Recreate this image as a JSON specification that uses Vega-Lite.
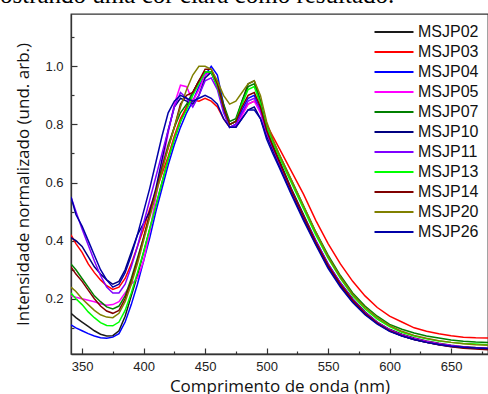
{
  "$schema": "https://vega.github.io/schema/vega-lite/v6.json",
  "width": 417,
  "height": 340,
  "autosize": {"type": "none"},
  "padding": {"left": 71, "top": 14, "right": 0, "bottom": 40},
  "background": "white",
  "title": {"text": "ostrando uma cor clara como resultado.", "font": "Liberation Serif", "fontSize": 25, "fontWeight": "normal", "color": "#000", "anchor": "start", "frame": "group", "dx": -71, "dy": 19.5, "offset": 6, "baseline": "alphabetic"},
  "data": {"values": [
    {"nm":341,"MSJP02":0.15,"MSJP03":0.42,"MSJP04":0.11,"MSJP05":0.21,"MSJP07":0.32,"MSJP10":0.41,"MSJP11":0.55,"MSJP13":0.22,"MSJP14":0.31,"MSJP20":0.24,"MSJP26":0.55},
    {"nm":345,"MSJP02":0.135,"MSJP03":0.39,"MSJP04":0.10,"MSJP05":0.205,"MSJP07":0.30,"MSJP10":0.40,"MSJP11":0.50,"MSJP13":0.20,"MSJP14":0.285,"MSJP20":0.225,"MSJP26":0.49},
    {"nm":350,"MSJP02":0.12,"MSJP03":0.36,"MSJP04":0.09,"MSJP05":0.20,"MSJP07":0.27,"MSJP10":0.38,"MSJP11":0.44,"MSJP13":0.18,"MSJP14":0.26,"MSJP20":0.20,"MSJP26":0.45},
    {"nm":355,"MSJP02":0.105,"MSJP03":0.32,"MSJP04":0.08,"MSJP05":0.195,"MSJP07":0.24,"MSJP10":0.345,"MSJP11":0.385,"MSJP13":0.155,"MSJP14":0.23,"MSJP20":0.18,"MSJP26":0.40},
    {"nm":360,"MSJP02":0.09,"MSJP03":0.29,"MSJP04":0.072,"MSJP05":0.19,"MSJP07":0.21,"MSJP10":0.31,"MSJP11":0.33,"MSJP13":0.135,"MSJP14":0.20,"MSJP20":0.16,"MSJP26":0.35},
    {"nm":365,"MSJP02":0.078,"MSJP03":0.265,"MSJP04":0.066,"MSJP05":0.183,"MSJP07":0.19,"MSJP10":0.285,"MSJP11":0.28,"MSJP13":0.118,"MSJP14":0.175,"MSJP20":0.145,"MSJP26":0.30},
    {"nm":370,"MSJP02":0.072,"MSJP03":0.245,"MSJP04":0.064,"MSJP05":0.178,"MSJP07":0.172,"MSJP10":0.265,"MSJP11":0.24,"MSJP13":0.108,"MSJP14":0.158,"MSJP20":0.137,"MSJP26":0.265},
    {"nm":375,"MSJP02":0.073,"MSJP03":0.232,"MSJP04":0.068,"MSJP05":0.18,"MSJP07":0.165,"MSJP10":0.25,"MSJP11":0.22,"MSJP13":0.107,"MSJP14":0.15,"MSJP20":0.135,"MSJP26":0.24},
    {"nm":380,"MSJP02":0.09,"MSJP03":0.24,"MSJP04":0.08,"MSJP05":0.19,"MSJP07":0.175,"MSJP10":0.26,"MSJP11":0.22,"MSJP13":0.12,"MSJP14":0.16,"MSJP20":0.15,"MSJP26":0.25},
    {"nm":385,"MSJP02":0.14,"MSJP03":0.27,"MSJP04":0.12,"MSJP05":0.22,"MSJP07":0.21,"MSJP10":0.30,"MSJP11":0.25,"MSJP13":0.16,"MSJP14":0.20,"MSJP20":0.19,"MSJP26":0.29},
    {"nm":390,"MSJP02":0.21,"MSJP03":0.32,"MSJP04":0.18,"MSJP05":0.25,"MSJP07":0.27,"MSJP10":0.36,"MSJP11":0.31,"MSJP13":0.22,"MSJP14":0.26,"MSJP20":0.25,"MSJP26":0.35},
    {"nm":395,"MSJP02":0.28,"MSJP03":0.38,"MSJP04":0.25,"MSJP05":0.27,"MSJP07":0.34,"MSJP10":0.42,"MSJP11":0.38,"MSJP13":0.29,"MSJP14":0.33,"MSJP20":0.32,"MSJP26":0.42},
    {"nm":400,"MSJP02":0.36,"MSJP03":0.44,"MSJP04":0.33,"MSJP05":0.33,"MSJP07":0.41,"MSJP10":0.46,"MSJP11":0.46,"MSJP13":0.36,"MSJP14":0.41,"MSJP20":0.40,"MSJP26":0.50},
    {"nm":405,"MSJP02":0.44,"MSJP03":0.51,"MSJP04":0.41,"MSJP05":0.43,"MSJP07":0.49,"MSJP10":0.50,"MSJP11":0.54,"MSJP13":0.44,"MSJP14":0.49,"MSJP20":0.48,"MSJP26":0.58},
    {"nm":410,"MSJP02":0.52,"MSJP03":0.57,"MSJP04":0.50,"MSJP05":0.55,"MSJP07":0.57,"MSJP10":0.58,"MSJP11":0.62,"MSJP13":0.52,"MSJP14":0.57,"MSJP20":0.56,"MSJP26":0.67},
    {"nm":415,"MSJP02":0.60,"MSJP03":0.63,"MSJP04":0.58,"MSJP05":0.66,"MSJP07":0.65,"MSJP10":0.68,"MSJP11":0.70,"MSJP13":0.60,"MSJP14":0.65,"MSJP20":0.64,"MSJP26":0.76},
    {"nm":420,"MSJP02":0.68,"MSJP03":0.69,"MSJP04":0.66,"MSJP05":0.77,"MSJP07":0.73,"MSJP10":0.78,"MSJP11":0.78,"MSJP13":0.68,"MSJP14":0.72,"MSJP20":0.72,"MSJP26":0.84},
    {"nm":425,"MSJP02":0.75,"MSJP03":0.76,"MSJP04":0.73,"MSJP05":0.87,"MSJP07":0.79,"MSJP10":0.86,"MSJP11":0.86,"MSJP13":0.75,"MSJP14":0.79,"MSJP20":0.79,"MSJP26":0.88},
    {"nm":430,"MSJP02":0.81,"MSJP03":0.82,"MSJP04":0.79,"MSJP05":0.935,"MSJP07":0.84,"MSJP10":0.89,"MSJP11":0.91,"MSJP13":0.81,"MSJP14":0.87,"MSJP20":0.86,"MSJP26":0.90},
    {"nm":435,"MSJP02":0.86,"MSJP03":0.86,"MSJP04":0.84,"MSJP05":0.93,"MSJP07":0.87,"MSJP10":0.88,"MSJP11":0.89,"MSJP13":0.85,"MSJP14":0.90,"MSJP20":0.92,"MSJP26":0.89},
    {"nm":440,"MSJP02":0.91,"MSJP03":0.885,"MSJP04":0.88,"MSJP05":0.88,"MSJP07":0.91,"MSJP10":0.87,"MSJP11":0.86,"MSJP13":0.90,"MSJP14":0.91,"MSJP20":0.97,"MSJP26":0.88},
    {"nm":445,"MSJP02":0.95,"MSJP03":0.88,"MSJP04":0.93,"MSJP05":0.92,"MSJP07":0.95,"MSJP10":0.90,"MSJP11":0.90,"MSJP13":0.94,"MSJP14":0.95,"MSJP20":1.0,"MSJP26":0.89},
    {"nm":450,"MSJP02":0.98,"MSJP03":0.89,"MSJP04":0.97,"MSJP05":0.97,"MSJP07":0.98,"MSJP10":0.96,"MSJP11":0.95,"MSJP13":0.98,"MSJP14":0.99,"MSJP20":1.0,"MSJP26":0.90},
    {"nm":455,"MSJP02":0.98,"MSJP03":0.88,"MSJP04":1.0,"MSJP05":0.98,"MSJP07":0.98,"MSJP10":0.98,"MSJP11":0.96,"MSJP13":0.98,"MSJP14":0.99,"MSJP20":0.99,"MSJP26":0.89},
    {"nm":460,"MSJP02":0.93,"MSJP03":0.86,"MSJP04":0.97,"MSJP05":0.93,"MSJP07":0.94,"MSJP10":0.93,"MSJP11":0.92,"MSJP13":0.93,"MSJP14":0.94,"MSJP20":0.95,"MSJP26":0.87},
    {"nm":465,"MSJP02":0.86,"MSJP03":0.82,"MSJP04":0.87,"MSJP05":0.85,"MSJP07":0.87,"MSJP10":0.85,"MSJP11":0.84,"MSJP13":0.86,"MSJP14":0.86,"MSJP20":0.90,"MSJP26":0.82},
    {"nm":470,"MSJP02":0.80,"MSJP03":0.79,"MSJP04":0.79,"MSJP05":0.79,"MSJP07":0.81,"MSJP10":0.79,"MSJP11":0.79,"MSJP13":0.80,"MSJP14":0.80,"MSJP20":0.87,"MSJP26":0.79},
    {"nm":475,"MSJP02":0.81,"MSJP03":0.80,"MSJP04":0.80,"MSJP05":0.79,"MSJP07":0.82,"MSJP10":0.79,"MSJP11":0.80,"MSJP13":0.81,"MSJP14":0.81,"MSJP20":0.88,"MSJP26":0.79},
    {"nm":480,"MSJP02":0.88,"MSJP03":0.84,"MSJP04":0.85,"MSJP05":0.83,"MSJP07":0.88,"MSJP10":0.82,"MSJP11":0.84,"MSJP13":0.87,"MSJP14":0.86,"MSJP20":0.91,"MSJP26":0.82},
    {"nm":485,"MSJP02":0.94,"MSJP03":0.87,"MSJP04":0.89,"MSJP05":0.87,"MSJP07":0.93,"MSJP10":0.85,"MSJP11":0.88,"MSJP13":0.92,"MSJP14":0.90,"MSJP20":0.94,"MSJP26":0.85},
    {"nm":490,"MSJP02":0.95,"MSJP03":0.88,"MSJP04":0.90,"MSJP05":0.88,"MSJP07":0.94,"MSJP10":0.86,"MSJP11":0.89,"MSJP13":0.93,"MSJP14":0.91,"MSJP20":0.95,"MSJP26":0.85},
    {"nm":495,"MSJP02":0.88,"MSJP03":0.86,"MSJP04":0.85,"MSJP05":0.84,"MSJP07":0.88,"MSJP10":0.82,"MSJP11":0.85,"MSJP13":0.87,"MSJP14":0.86,"MSJP20":0.90,"MSJP26":0.82},
    {"nm":500,"MSJP02":0.78,"MSJP03":0.80,"MSJP04":0.77,"MSJP05":0.77,"MSJP07":0.79,"MSJP10":0.76,"MSJP11":0.77,"MSJP13":0.79,"MSJP14":0.78,"MSJP20":0.81,"MSJP26":0.75},
    {"nm":505,"MSJP02":0.73,"MSJP03":0.76,"MSJP04":0.72,"MSJP05":0.72,"MSJP07":0.745,"MSJP10":0.71,"MSJP11":0.72,"MSJP13":0.74,"MSJP14":0.725,"MSJP20":0.75,"MSJP26":0.70},
    {"nm":510,"MSJP02":0.68,"MSJP03":0.72,"MSJP04":0.67,"MSJP05":0.67,"MSJP07":0.70,"MSJP10":0.66,"MSJP11":0.67,"MSJP13":0.69,"MSJP14":0.675,"MSJP20":0.70,"MSJP26":0.655},
    {"nm":520,"MSJP02":0.58,"MSJP03":0.64,"MSJP04":0.57,"MSJP05":0.57,"MSJP07":0.61,"MSJP10":0.565,"MSJP11":0.575,"MSJP13":0.60,"MSJP14":0.575,"MSJP20":0.61,"MSJP26":0.56},
    {"nm":530,"MSJP02":0.49,"MSJP03":0.56,"MSJP04":0.48,"MSJP05":0.48,"MSJP07":0.52,"MSJP10":0.475,"MSJP11":0.485,"MSJP13":0.51,"MSJP14":0.485,"MSJP20":0.52,"MSJP26":0.47},
    {"nm":540,"MSJP02":0.40,"MSJP03":0.47,"MSJP04":0.39,"MSJP05":0.395,"MSJP07":0.43,"MSJP10":0.39,"MSJP11":0.40,"MSJP13":0.42,"MSJP14":0.395,"MSJP20":0.43,"MSJP26":0.385},
    {"nm":550,"MSJP02":0.32,"MSJP03":0.39,"MSJP04":0.31,"MSJP05":0.315,"MSJP07":0.35,"MSJP10":0.31,"MSJP11":0.32,"MSJP13":0.34,"MSJP14":0.315,"MSJP20":0.345,"MSJP26":0.305},
    {"nm":560,"MSJP02":0.255,"MSJP03":0.32,"MSJP04":0.245,"MSJP05":0.25,"MSJP07":0.28,"MSJP10":0.245,"MSJP11":0.255,"MSJP13":0.27,"MSJP14":0.25,"MSJP20":0.275,"MSJP26":0.24},
    {"nm":570,"MSJP02":0.20,"MSJP03":0.26,"MSJP04":0.19,"MSJP05":0.195,"MSJP07":0.22,"MSJP10":0.19,"MSJP11":0.198,"MSJP13":0.21,"MSJP14":0.195,"MSJP20":0.215,"MSJP26":0.187},
    {"nm":580,"MSJP02":0.155,"MSJP03":0.21,"MSJP04":0.148,"MSJP05":0.152,"MSJP07":0.175,"MSJP10":0.148,"MSJP11":0.153,"MSJP13":0.165,"MSJP14":0.15,"MSJP20":0.17,"MSJP26":0.145},
    {"nm":590,"MSJP02":0.12,"MSJP03":0.17,"MSJP04":0.115,"MSJP05":0.118,"MSJP07":0.14,"MSJP10":0.115,"MSJP11":0.118,"MSJP13":0.13,"MSJP14":0.116,"MSJP20":0.135,"MSJP26":0.113},
    {"nm":600,"MSJP02":0.095,"MSJP03":0.14,"MSJP04":0.09,"MSJP05":0.093,"MSJP07":0.112,"MSJP10":0.09,"MSJP11":0.093,"MSJP13":0.104,"MSJP14":0.09,"MSJP20":0.108,"MSJP26":0.088},
    {"nm":610,"MSJP02":0.078,"MSJP03":0.12,"MSJP04":0.073,"MSJP05":0.076,"MSJP07":0.095,"MSJP10":0.073,"MSJP11":0.075,"MSJP13":0.085,"MSJP14":0.073,"MSJP20":0.088,"MSJP26":0.072},
    {"nm":620,"MSJP02":0.065,"MSJP03":0.10,"MSJP04":0.06,"MSJP05":0.063,"MSJP07":0.082,"MSJP10":0.06,"MSJP11":0.062,"MSJP13":0.072,"MSJP14":0.06,"MSJP20":0.074,"MSJP26":0.06},
    {"nm":630,"MSJP02":0.055,"MSJP03":0.088,"MSJP04":0.05,"MSJP05":0.053,"MSJP07":0.072,"MSJP10":0.05,"MSJP11":0.052,"MSJP13":0.062,"MSJP14":0.05,"MSJP20":0.064,"MSJP26":0.05},
    {"nm":640,"MSJP02":0.047,"MSJP03":0.08,"MSJP04":0.042,"MSJP05":0.045,"MSJP07":0.065,"MSJP10":0.043,"MSJP11":0.044,"MSJP13":0.055,"MSJP14":0.042,"MSJP20":0.056,"MSJP26":0.043},
    {"nm":650,"MSJP02":0.04,"MSJP03":0.073,"MSJP04":0.036,"MSJP05":0.039,"MSJP07":0.058,"MSJP10":0.037,"MSJP11":0.038,"MSJP13":0.05,"MSJP14":0.035,"MSJP20":0.05,"MSJP26":0.037},
    {"nm":660,"MSJP02":0.035,"MSJP03":0.068,"MSJP04":0.032,"MSJP05":0.034,"MSJP07":0.054,"MSJP10":0.033,"MSJP11":0.033,"MSJP13":0.046,"MSJP14":0.03,"MSJP20":0.045,"MSJP26":0.033},
    {"nm":670,"MSJP02":0.032,"MSJP03":0.066,"MSJP04":0.03,"MSJP05":0.031,"MSJP07":0.051,"MSJP10":0.03,"MSJP11":0.03,"MSJP13":0.044,"MSJP14":0.027,"MSJP20":0.042,"MSJP26":0.031},
    {"nm":680,"MSJP02":0.03,"MSJP03":0.065,"MSJP04":0.028,"MSJP05":0.029,"MSJP07":0.05,"MSJP10":0.028,"MSJP11":0.028,"MSJP13":0.042,"MSJP14":0.025,"MSJP20":0.04,"MSJP26":0.029}
  ]},
  "transform": [{"fold": ["MSJP02","MSJP03","MSJP04","MSJP05","MSJP07","MSJP10","MSJP11","MSJP13","MSJP14","MSJP20","MSJP26"], "as": ["amostra", "intensidade"]}],
  "mark": {"type": "line", "strokeWidth": 1.5, "clip": true},
  "encoding": {
    "x": {"field": "nm", "type": "quantitative", "scale": {"domain": [341, 680], "nice": false, "zero": false},
      "axis": {"title": "Comprimento de onda (nm)", "values": [350,375,400,425,450,475,500,525,550,575,600,625,650,675],
        "labelExpr": "datum.value % 50 === 0 ? datum.label : ''", "labelOverlap": false, "labelFlush": false,
        "tickSize": {"condition": {"test": "datum.value % 50 === 0", "value": -6}, "value": -3},
        "labelPadding": 12, "labelFont": "Liberation Sans", "labelFontSize": 13, "labelColor": "#222",
        "titleFont": "Open Sans", "titleFontSize": 17, "titleFontWeight": "normal", "titleColor": "#111", "titlePadding": 2.5,
        "domainColor": "#333", "domainWidth": 1.3, "tickColor": "#333", "tickWidth": 1.2, "grid": false}},
    "y": {"field": "intensidade", "type": "quantitative", "scale": {"domain": [0.01, 1.18], "nice": false, "zero": false},
      "axis": {"title": "Intensidade normalizado (und. arb.)", "values": [0.1,0.2,0.3,0.4,0.5,0.6,0.7,0.8,0.9,1.0,1.1],
        "labelExpr": "round(datum.value*10) % 2 === 0 ? format(datum.value, '.1f') : ''", "labelOverlap": false, "labelFlush": false,
        "tickSize": {"condition": {"test": "round(datum.value*10) % 2 === 0", "value": -6}, "value": -3},
        "labelPadding": 14, "labelFont": "Liberation Sans", "labelFontSize": 13, "labelColor": "#222",
        "titleFont": "Open Sans", "titleFontSize": 17, "titleFontWeight": "normal", "titleColor": "#111", "titlePadding": 12,
        "domainColor": "#333", "domainWidth": 1.3, "tickColor": "#333", "tickWidth": 1.2, "grid": false}},
    "color": {"field": "amostra", "type": "nominal",
      "scale": {"domain": ["MSJP02","MSJP03","MSJP04","MSJP05","MSJP07","MSJP10","MSJP11","MSJP13","MSJP14","MSJP20","MSJP26"],
        "range": ["#1a1a1a","#ff0000","#0000ff","#ff00ff","#008000","#000080","#8000ff","#00ff00","#800000","#808000","#0000a8"]},
      "legend": {"title": null, "orient": "none", "legendX": 315, "legendY": 10, "padding": 0,
        "symbolType": "M-4,0H4", "symbolSize": 95, "symbolStrokeWidth": 2,
        "labelFont": "Liberation Sans", "labelFontSize": 16, "labelColor": "#111", "labelOffset": 16, "rowPadding": 4}}
  },
  "config": {"view": {"stroke": "#333", "strokeWidth": 1.3}}
}
